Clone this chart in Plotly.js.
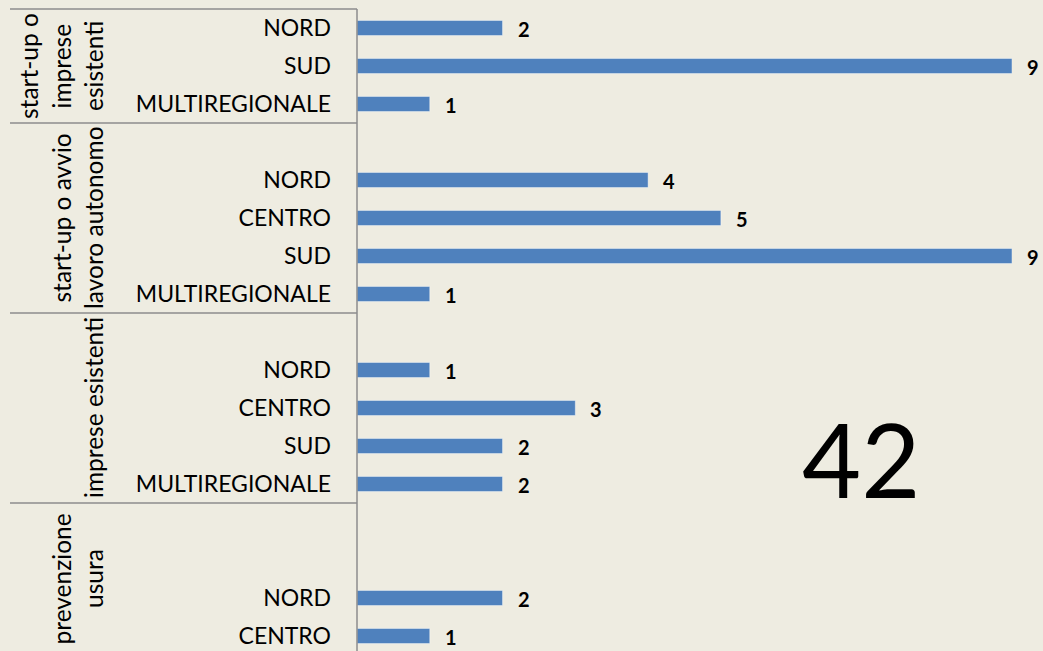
<!DOCTYPE html>
<html>
<head>
<meta charset="utf-8">
<script src="https://cdn.plot.ly/plotly-3.0.1.min.js"></script>
<style>html,body{margin:0;padding:0;background:#EEECE1;}</style>
</head>
<body>
<div id="chart" style="width:1043px;height:651px;"></div>
<script>
// ---- data ----
const groupLabelLines = [
  ["start-up o", "imprese", "esistenti"],
  ["start-up o avvio", "lavoro autonomo"],
  ["imprese esistenti"],
  ["prevenzione", "usura"]
];
const categories1 = ["NORD", "SUD", "MULTIREGIONALE"];
const values1 = [2, 9, 1];
const categories2 = ["", "NORD", "CENTRO", "SUD", "MULTIREGIONALE"];
const values2 = [null, 4, 5, 9, 1];
const categories3 = ["", "NORD", "CENTRO", "SUD", "MULTIREGIONALE"];
const values3 = [null, 1, 3, 2, 2];
const categories4 = ["", "", "NORD", "CENTRO"];
const values4 = [null, null, 2, 1];

const groupCats = [categories1, categories2, categories3, categories4];
const groupVals = [values1, values2, values3, values4];

// ---- build rows ----
const FONT = "Lato, 'Noto Sans', sans-serif";
const barX = [], barY = [], tickVals = [], tickText = [];
const annotations = [], shapes = [];
let row = 0;
let total = 0;
const groupRanges = [];
groupCats.forEach((cats, g) => {
  const start = row;
  cats.forEach((c, i) => {
    const v = groupVals[g][i];
    if (c !== "") { tickVals.push(row); tickText.push(c); }
    if (v !== null && v !== undefined) {
      barX.push(v); barY.push(row); total += v;
      annotations.push({
        x: v, y: row, xref: "x", yref: "y", text: String(v),
        showarrow: false, xanchor: "left", yanchor: "middle", xshift: 13, yshift: -1,
        font: {family: FONT, size: 20, color: "#000", weight: "bold"}
      });
    }
    row++;
  });
  groupRanges.push([start, row - 1]);
});

const plotLeft = 357, plotW = 655;
const px2paper = p => (p - plotLeft) / plotW;

groupRanges.forEach(([s, e], g) => {
  shapes.push({type: "line", xref: "paper", yref: "y", x0: px2paper(10), x1: 0,
    y0: s - 0.5, y1: s - 0.5, line: {color: "#8C8C8C", width: 1.5}});
  const lines = groupLabelLines[g];
  const n = lines.length;
  lines.forEach((t, j) => {
    const px = 93 - 32.5 * (n - 1 - j);
    annotations.push({
      xref: "paper", yref: "y", x: 0, y: (s + e) / 2, xshift: px - plotLeft,
      text: t, showarrow: false, textangle: -90, xanchor: "center", yanchor: "middle",
      font: {family: FONT, size: 24.5, color: "#000"}
    });
  });
});
// vertical axis line
shapes.push({type: "line", xref: "paper", yref: "y", x0: 0, x1: 0,
  y0: -0.5, y1: 17, line: {color: "#8C8C8C", width: 1.5}});

// total
annotations.push({
  xref: "paper", yref: "paper", x: px2paper(861), y: 1 - 458 / 651,
  text: String(total), showarrow: false, xanchor: "center", yanchor: "middle",
  font: {family: FONT, size: 102, color: "#000"}
});

const trace = {
  type: "bar", orientation: "h", x: barX, y: barY,
  marker: {color: "#4F81BD", line: {color: "rgba(255,255,255,0.45)", width: 1}},
  hoverinfo: "none"
};

const layout = {
  width: 1043, height: 651,
  margin: {l: plotLeft, r: 1043 - plotLeft - plotW, t: 0, b: 0, pad: 0},
  paper_bgcolor: "#EEECE1", plot_bgcolor: "#EEECE1",
  showlegend: false, bargap: 0.6,
  xaxis: {range: [0, 9], showgrid: false, zeroline: false, showticklabels: false, showline: false, fixedrange: true},
  yaxis: {range: [623 / 38, -28 / 38], autorange: false, tickmode: "array",
    tickvals: tickVals, ticktext: tickText, showgrid: false, zeroline: false, showline: false,
    ticks: "", ticklabelstandoff: 25,
    tickfont: {family: FONT, size: 23, color: "#000"}},
  annotations: annotations, shapes: shapes
};

Plotly.newPlot("chart", [trace], layout, {displayModeBar: false, staticPlot: true});
</script>
</body>
</html>
